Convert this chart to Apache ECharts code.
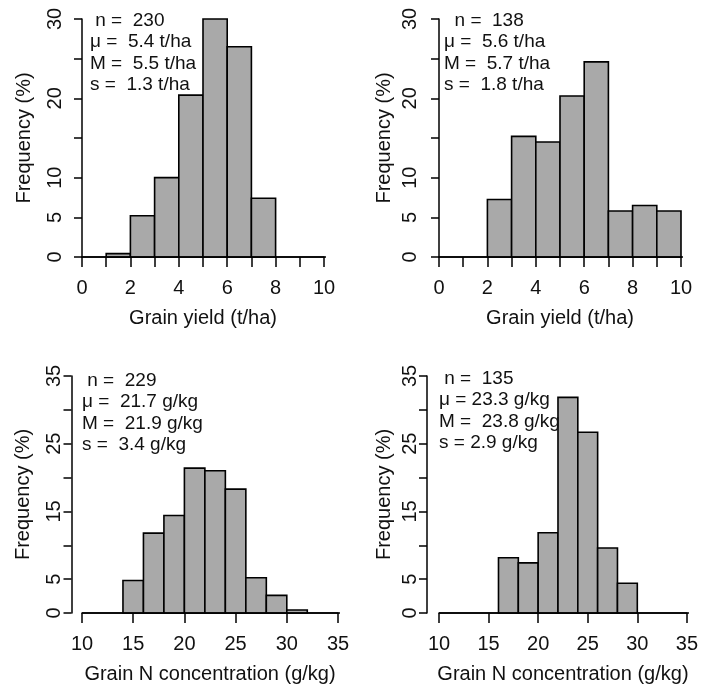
<!DOCTYPE html>
<html>
<head>
<meta charset="utf-8">
<script src="https://cdn.jsdelivr.net/npm/echarts@6/dist/echarts.min.js"></script>
<style>
html,body{margin:0;padding:0;background:#fff;}
#chart{width:701px;height:686px;}
</style>
</head>
<body>
<div id="chart"></div>
<script>
// ---- data ----
const p1Edges = [1, 2, 3, 4, 5, 6, 7, 8];
const p1Freq  = [0.43, 5.2, 10.0, 20.4, 30.0, 26.5, 7.4];
const p2Edges = [2, 3, 4, 5, 6, 7, 8, 9, 10];
const p2Freq  = [7.25, 15.2, 14.5, 20.3, 24.6, 5.8, 6.5, 5.8];
const p3Edges = [14, 16, 18, 20, 22, 24, 26, 28, 30, 32];
const p3Freq  = [4.8, 11.8, 14.4, 21.4, 21.0, 18.3, 5.2, 2.6, 0.44];
const p4Edges = [16, 18, 20, 22, 24, 26, 28, 30];
const p4Freq  = [8.15, 7.4, 11.85, 31.85, 26.7, 9.6, 4.4];

const p1Stats = [' n =  230', 'μ =  5.4 t/ha', 'M =  5.5 t/ha', 's =  1.3 t/ha'];
const p2Stats = ['  n =  138', 'μ =  5.6 t/ha', 'M =  5.7 t/ha', 's =  1.8 t/ha'];
const p3Stats = [' n =  229', 'μ =  21.7 g/kg', 'M =  21.9 g/kg', 's =  3.4 g/kg'];
const p4Stats = [' n =  135', 'μ = 23.3 g/kg', 'M =  23.8 g/kg', 's = 2.9 g/kg'];

const xTitleYield = 'Grain yield (t/ha)';
const xTitleN = 'Grain N concentration (g/kg)';
const yTitle = 'Frequency (%)';

const yieldX = {min: 0, max: 10, interval: 1};
const nX = {min: 10, max: 35, interval: 5};
const yieldY = {min: 0, max: 30, interval: 5, labels: [0, 5, 10, 20, 30]};
const nY = {min: 0, max: 35, interval: 5, labels: [0, 5, 15, 25, 35]};
const baselineEnd = [11.06, 10.83, 36.2, 35.6];

// ---- build ----
const FONT = '"Liberation Sans", Arial, sans-serif';
const panels = [
  {edges: p1Edges, freq: p1Freq, stats: p1Stats, xs: yieldX, ys: yieldY, xt: xTitleYield, xLabStep: 2,
   grid: {left: 82, top: 19, width: 242, height: 238}, yOff: 10, xOff: 9.5, yGap: 38, statL: 90, statT: 10},
  {edges: p2Edges, freq: p2Freq, stats: p2Stats, xs: yieldX, ys: yieldY, xt: xTitleYield, xLabStep: 2,
   grid: {left: 439, top: 19, width: 242, height: 238}, yOff: 12, xOff: 9.5, yGap: 33, statL: 444, statT: 10},
  {edges: p3Edges, freq: p3Freq, stats: p3Stats, xs: nX, ys: nY, xt: xTitleN, xLabStep: 5,
   grid: {left: 82, top: 376, width: 256, height: 237}, yOff: 10.5, xOff: 9.5, yGap: 38, statL: 82, statT: 370},
  {edges: p4Edges, freq: p4Freq, stats: p4Stats, xs: nX, ys: nY, xt: xTitleN, xLabStep: 5,
   grid: {left: 439, top: 376, width: 256, height: 237}, yOff: 12, xOff: 9.5, yGap: 33, statL: 439, statT: 368}
];

const grid = [], xAxis = [], yAxis = [], series = [], title = [];
panels.forEach((p, i) => {
  grid.push(Object.assign({containLabel: false}, p.grid));
  xAxis.push({
    type: 'value', gridIndex: i, min: p.xs.min, max: p.xs.max, interval: p.xs.interval,
    position: 'bottom', offset: p.xOff,
    name: p.xt, nameLocation: 'middle', nameGap: 42, nameMoveOverlap: false,
    nameTextStyle: {fontSize: 20, color: '#111', fontFamily: FONT},
    axisLine: {show: true, lineStyle: {color: '#000', width: 1.5}},
    axisTick: {show: true, length: 10, lineStyle: {color: '#000', width: 1.5}},
    axisLabel: {show: true, margin: 12, fontSize: 20, color: '#111', fontFamily: FONT,
      showMinLabel: true, showMaxLabel: true,
      formatter: v => (Math.round(v - p.xs.min) % p.xLabStep === 0 ? String(v) : '')},
    splitLine: {show: false}
  });
  yAxis.push({
    type: 'value', gridIndex: i, min: p.ys.min, max: p.ys.max, interval: p.ys.interval,
    position: 'left', offset: p.yOff,
    name: yTitle, nameLocation: 'middle', nameGap: p.yGap, nameRotate: 90, nameMoveOverlap: false,
    nameTextStyle: {fontSize: 20, color: '#111', fontFamily: FONT},
    axisLine: {show: true, lineStyle: {color: '#000', width: 1.5}},
    axisTick: {show: true, length: 8, lineStyle: {color: '#000', width: 1.5}},
    axisLabel: {show: true, rotate: 90, margin: 7, fontSize: 20, color: '#111', fontFamily: FONT,
      showMinLabel: true, showMaxLabel: true,
      formatter: v => (p.ys.labels.indexOf(v) >= 0 ? String(v) : '')},
    splitLine: {show: false}
  });
  const data = p.freq.map((f, k) => [p.edges[k], p.edges[k + 1], f]);
  series.push({
    type: 'custom', xAxisIndex: i, yAxisIndex: i, data: data,
    encode: {x: [0, 1], y: 2},
    renderItem: (params, api) => {
      const a = api.coord([api.value(0), api.value(2)]);
      const b = api.coord([api.value(1), 0]);
      return {type: 'rect', shape: {x: a[0], y: a[1], width: b[0] - a[0], height: b[1] - a[1]},
        style: {fill: '#a9a9a9', stroke: '#000', lineWidth: 1.6}};
    }
  });
  series.push({
    type: 'line', xAxisIndex: i, yAxisIndex: i, clip: false, symbol: 'none', silent: true,
    data: [[p.xs.min, 0], [baselineEnd[i], 0]],
    lineStyle: {color: '#000', width: 1.6}
  });
  title.push({
    text: p.stats.join('\n'), left: p.statL, top: p.statT, padding: 0,
    textStyle: {fontSize: 19, fontWeight: 'normal', color: '#111', fontFamily: FONT, lineHeight: 21.5}
  });
});

const chart = echarts.init(document.getElementById('chart'), null, {renderer: 'canvas'});
chart.setOption({
  animation: false, backgroundColor: '#fff',
  title: title, grid: grid, xAxis: xAxis, yAxis: yAxis, series: series
});
</script>
</body>
</html>
